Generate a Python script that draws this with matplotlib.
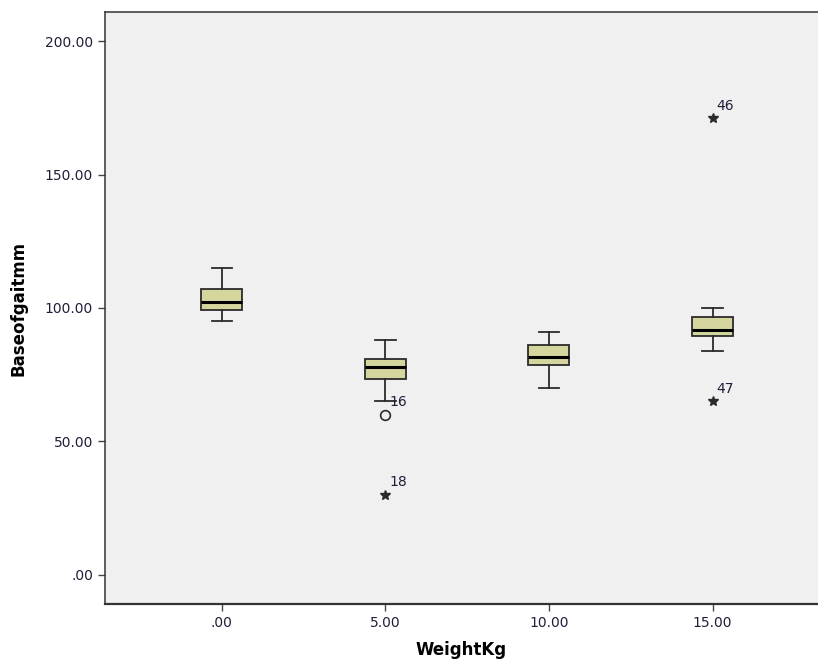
import matplotlib

matplotlib.use("Agg")
import matplotlib.pyplot as plt

# --- data ------------------------------------------------------------------
categories = [".00", "5.00", "10.00", "15.00"]
whislo = [95, 65, 70, 84]
q1 = [99.3, 73.5, 78.8, 89.5]
med = [102.2, 78, 81.5, 91.7]
q3 = [107, 81, 86, 96.5]
whishi = [115, 88, 91, 100]

# outliers: (group index, value, case label, extreme?)
out_group = [1, 1, 3, 3]
out_value = [60, 30, 171, 65]
out_label = ["16", "18", "46", "47"]
out_extreme = [False, True, True, True]

yticks = [0, 50, 100, 150, 200]
ytick_labels = [".00", "50.00", "100.00", "150.00", "200.00"]

BOX_FILL = "#d5d69d"
EDGE = "#2b2b2b"
TEXT = "#1f1f3a"

fig = plt.figure(figsize=(8.18, 6.67), dpi=100)
ax = fig.add_axes([0.128, 0.0945, 0.872, 0.8875])
ax.set_facecolor("#f0f0f0")

stats = [
    dict(whislo=lo, q1=a, med=m, q3=b, whishi=hi, fliers=[], label=c)
    for lo, a, m, b, hi, c in zip(whislo, q1, med, q3, whishi, categories)
]
pos = list(range(len(categories)))
ax.bxp(
    stats, positions=pos, widths=0.25, patch_artist=True, showfliers=False,
    boxprops=dict(facecolor=BOX_FILL, edgecolor=EDGE, linewidth=1.3),
    medianprops=dict(color="black", linewidth=2.2),
    whiskerprops=dict(color=EDGE, linewidth=1.3),
    capprops=dict(color=EDGE, linewidth=1.3),
    capwidths=0.125,
)

for g, v, lab, ext in zip(out_group, out_value, out_label, out_extreme):
    if ext:
        ax.plot(g, v, marker="*", color=EDGE, markersize=7, linestyle="none")
    else:
        ax.plot(g, v, marker="o", markerfacecolor="none", markeredgecolor=EDGE,
                markeredgewidth=1.2, markersize=7, linestyle="none")
    ax.annotate(lab, (g, v), xytext=(3, 4), textcoords="offset points",
                ha="left", va="bottom", fontsize=10, color=TEXT)

ax.set_xlim(-0.716, 3.645)
ax.set_ylim(-10.9, 210.9)
ax.set_xticks(pos)
ax.set_xticklabels(categories)
ax.set_yticks(yticks)
ax.set_yticklabels(ytick_labels)
ax.tick_params(direction="out", length=5, width=1, color="#444444",
               labelsize=10, labelcolor=TEXT)

for side in ("left", "bottom", "top"):
    ax.spines[side].set_color("#333333")
    ax.spines[side].set_linewidth(1.1)
ax.spines["bottom"].set_linewidth(1.6)
ax.spines["right"].set_visible(False)

ax.set_xlabel("WeightKg", fontsize=12, fontweight="bold", labelpad=8)
ax.set_ylabel("Baseofgaitmm", fontsize=12, fontweight="bold", labelpad=12)

fig.savefig("out.png", dpi=100)
